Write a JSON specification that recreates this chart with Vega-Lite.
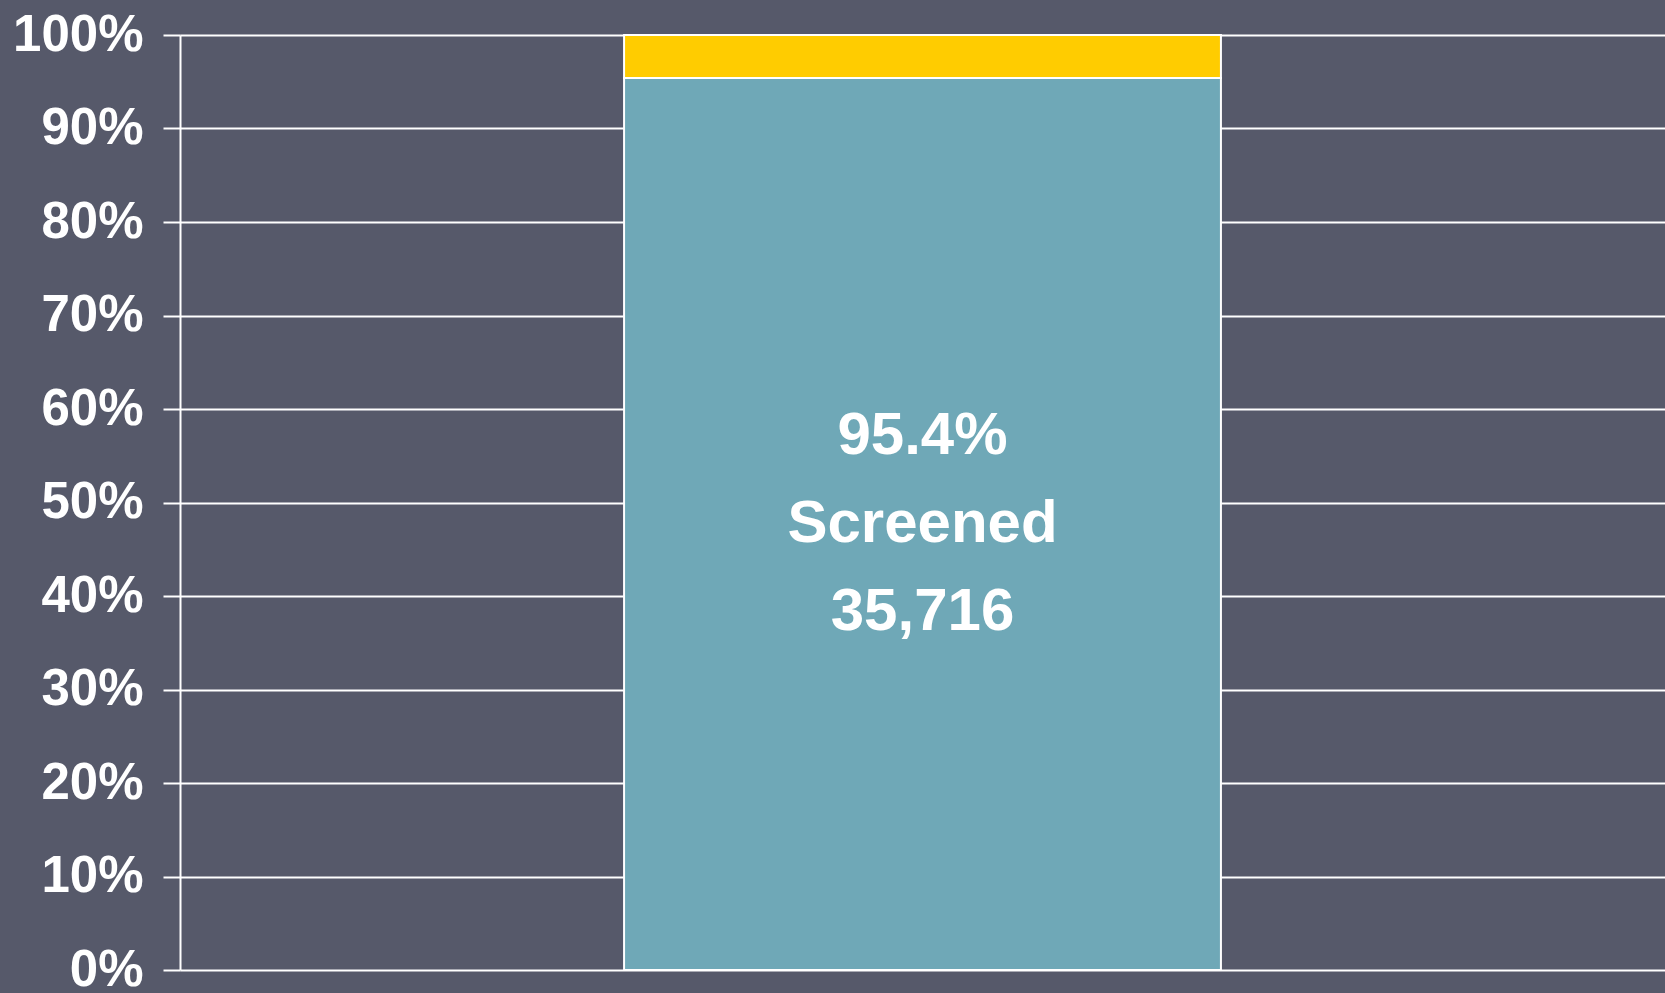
{
  "$schema": "https://vega.github.io/schema/vega-lite/v6.json",
  "width": 1485,
  "height": 935,
  "autosize": "none",
  "padding": {"left": 180, "top": 35, "right": 0, "bottom": 23},
  "background": "#56596a",
  "config": {
    "view": {"stroke": null},
    "font": "Liberation Sans"
  },
  "data": {
    "values": [
      {"group": "All", "status": "Screened", "pct": 0.954, "label": "95.4%\nScreened\n35,716"},
      {"group": "All", "status": "Not screened", "pct": 0.046, "label": ""}
    ]
  },
  "encoding": {
    "x": {"field": "group", "type": "nominal", "axis": null, "scale": {"paddingInner": 0, "paddingOuter": 0.744}}
  },
  "layer": [
    {
      "mark": {"type": "bar", "stroke": "#ffffff", "strokeWidth": 2},
      "encoding": {
        "y": {
          "field": "pct", "type": "quantitative", "stack": "zero",
          "scale": {"domain": [0, 1], "nice": false},
          "axis": {
            "values": [0, 0.1, 0.2, 0.3, 0.4, 0.5, 0.6, 0.7, 0.8, 0.9, 1],
            "format": ".0%",
            "title": null,
            "grid": true, "gridColor": "#ffffff", "gridWidth": 2, "gridOpacity": 1,
            "domain": true, "domainColor": "#ffffff", "domainWidth": 2,
            "ticks": true, "tickColor": "#ffffff", "tickWidth": 2, "tickSize": 17,
            "labelColor": "#ffffff", "labelFont": "Liberation Sans", "labelFontSize": 51, "labelFontWeight": "bold",
            "labelPadding": 20, "labelFlush": false, "labelOverlap": false
          }
        },
        "color": {
          "field": "status", "type": "nominal",
          "scale": {"domain": ["Screened", "Not screened"], "range": ["#6fa8b7", "#ffcc00"]},
          "legend": null
        },
        "order": {"field": "status", "sort": "descending"}
      }
    },
    {
      "transform": [{"filter": "datum.status === 'Screened'"}],
      "mark": {"type": "text", "color": "#ffffff", "font": "Liberation Sans", "fontSize": 60, "fontWeight": "bold", "lineBreak": "\n", "lineHeight": 88, "baseline": "middle", "align": "center", "dy": -88},
      "encoding": {
        "y": {"field": "pct", "type": "quantitative", "stack": "zero", "bandPosition": 0.5},
        "text": {"field": "label", "type": "nominal"}
      }
    }
  ]
}
